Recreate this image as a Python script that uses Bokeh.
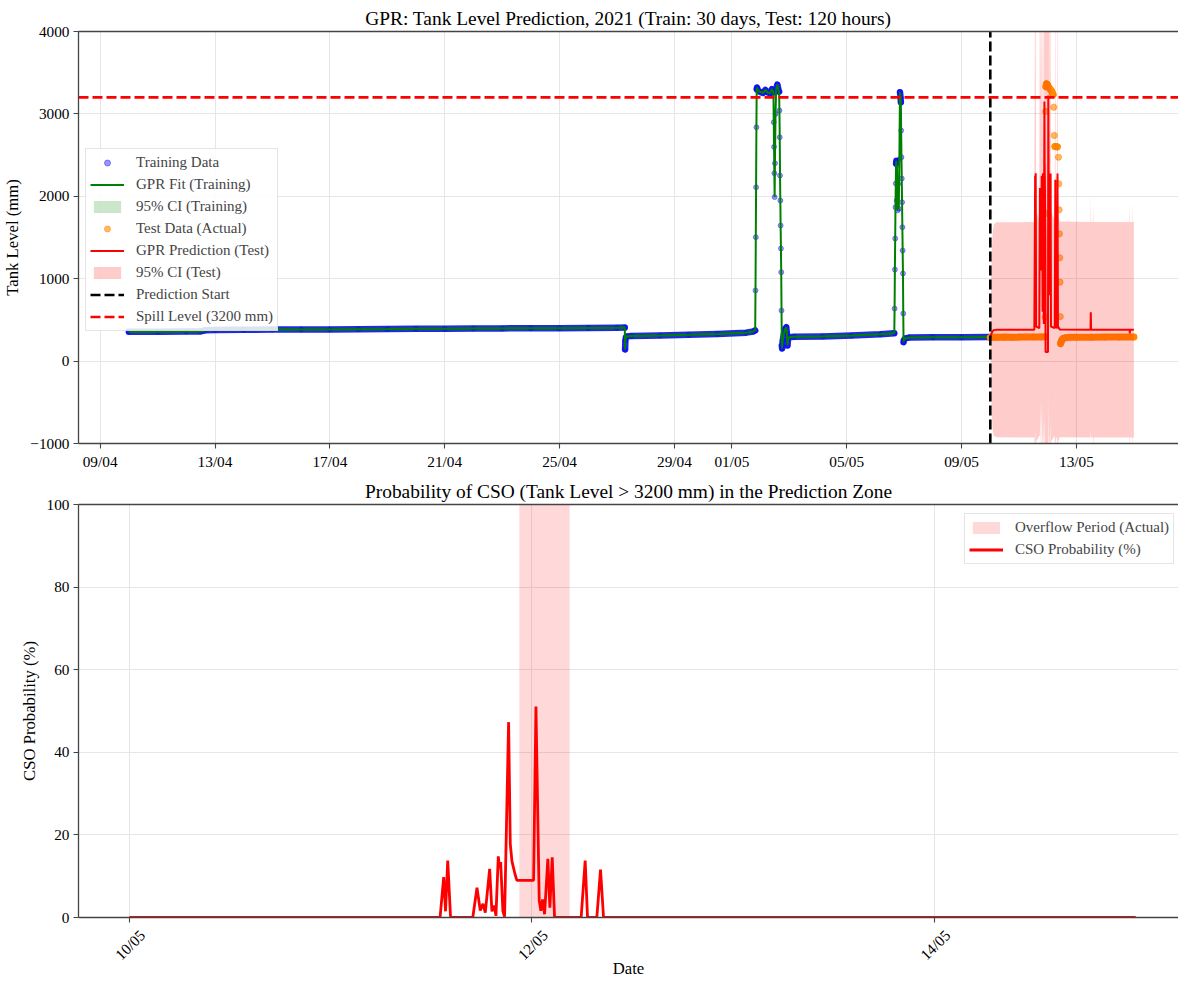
import math
import numpy as np
import pandas as pd
from bokeh.plotting import figure
from bokeh.layouts import column
from bokeh.models import (Range1d, FixedTicker, DatetimeTickFormatter, Legend,
                          LegendItem, LinearAxis, DatetimeAxis)
from bokeh.embed import file_html
from bokeh.resources import INLINE

FONT = "Liberation Serif"

# ---------------------------------------------------------------- data
train_start = "2021-04-10 00:00"
test_start = "2021-05-10 00:00"          # prediction start
spill_level = 3200

# training record: hours after train_start, tank level (mm)
train_hours = [
    0, 24, 48, 60, 64, 72, 96, 120, 144, 168, 192, 216, 240, 264, 288, 312, 336, 360, 384, 408, 414.5,
    414.75, 415, 415.5, 416, 420, 444, 468, 492, 516, 522, 523.5,
    523.75, 524, 524.25, 524.5, 524.75, 525, 526, 528, 530, 532, 534, 536, 537.5, 538.75,
    539, 539.25, 539.5, 539.75, 540, 540.5, 541, 542, 543, 543.5,
    543.75, 544, 544.25, 544.5, 544.75, 545, 545.25, 545.5, 545.75, 546,
    546.5, 547.5, 548.5, 549.5, 550, 550.5, 551, 552, 556, 580, 604, 628, 639.75,
    640, 640.25, 640.5, 640.75, 641, 641.25, 641.5, 641.75, 642, 642.5, 643, 643.5, 644, 644.5, 645,
    645.25, 645.5, 645.75, 646, 646.25, 646.5, 646.75, 647, 647.25, 647.5, 647.75, 649, 652, 672, 696, 719.75]
train_level = [
    355, 357, 358, 360, 374, 377, 380, 382, 384, 385, 387, 389, 392, 393, 395, 397, 398, 400, 403, 405, 407,
    141, 250, 290, 300, 305, 312, 320, 330, 345, 360, 372,
    857, 1504, 2110, 2838, 3300, 3320, 3280, 3265, 3255, 3290, 3260, 3250, 3300, 3260,
    2900, 2600, 2280, 1990, 2400, 3000, 3300, 3356, 3290, 3270,
    3041, 2717, 2252, 1949, 1646, 1366, 1079, 614, 189, 153,
    250, 330, 390, 411, 330, 189, 265, 290, 296, 300, 310, 325, 339,
    638, 1111, 1488, 1868, 2155, 2398, 2430, 1950, 2380, 1830, 2150, 1850, 2450, 3263, 3200,
    3142, 2798, 2474, 2216, 1928, 1625, 1342, 1063, 578, 230, 255, 275, 285, 288, 290, 292]
train_ci_halfwidth = 30

# test record: hours after test_start, measured tank level (mm)
test_hours = [0, 1, 3, 6, 12, 18, 24, 30, 36, 42, 45.5, 45.75, 46, 46.25, 46.5, 47, 47.5, 48,
              49, 50, 51, 52, 52.5, 53, 53.5, 54, 55, 56, 57, 57.25, 57.5, 57.75, 58, 58.25,
              58.5, 58.75, 59, 59.5, 60, 61, 63, 66, 72, 84, 96, 108, 120]
test_level = [285, 288, 289, 290, 291, 290, 291, 292, 292, 293, 295, 533, 1791, 3029, 3330, 3365,
              3360, 3345, 3320, 3300, 3284, 3250, 3235, 3081, 2738, 2604, 2604, 2600, 2474, 2151,
              1836, 1545, 1254, 958, 540, 213, 225, 245, 262, 275, 284, 288, 290, 290, 291, 291, 292]

# GPR prediction over the test window: hours, mean (mm), 95% half-width (mm)
pred_hours = [0, 1, 2, 3, 5, 36.8, 37.48, 37.7, 37.96, 38.3, 40.95, 41.45, 41.84, 42.16, 42.44,
              42.96, 43.23, 43.51, 43.71, 43.99, 44.13, 44.27, 44.54, 44.74, 45.22, 45.42, 45.62,
              46.01, 46.21, 48.2, 48.48, 48.87, 49.07, 49.27, 49.51, 49.9, 50.14, 50.42, 50.7,
              53.87, 54.35, 54.63, 55.74, 56.18, 56.54, 58, 83.75, 84, 84.25, 85.75, 86, 86.25,
              116.4, 116.6, 116.8, 118.4, 118.6, 118.8, 120]
pred_mean = [290, 335, 365, 376, 380, 380, 2250, 1000, 2280, 420, 400, 2100, 1200, 1800, 1100,
             2250, 1100, 1650, 600, 2280, 2100, 2250, 1100, 450, 3150, 2400, 2200, 1500, 110, 110,
             3223, 1900, 1500, 1950, 800, 2277, 1100, 2277, 420, 400, 2200, 420, 400, 2277, 420,
             385, 380, 593, 380, 380, 380, 380, 380, 335, 380, 380, 380, 380, 380]
pred_ci = [60, 900, 1200, 1285, 1305, 1307, 3400, 1800, 3500, 1400, 1310, 3000, 1700, 3200, 1600,
           3400, 1600, 2800, 1450, 3500, 3300, 3450, 1800, 1500, 3800, 3600, 3500, 3300, 4500, 4500,
           3600, 3000, 2800, 3100, 1700, 3400, 1800, 3400, 1400, 1310, 3300, 1400, 1310, 3400, 1400,
           1308, 1307, 1441, 1307, 1307, 1500, 1307, 1307, 1611, 1307, 1307, 1560, 1307, 1307]

# probability of exceeding the spill level: hours after test_start, %
cso_hours = [0, 37.05, 37.48, 37.7, 37.96, 38.3, 40.95, 41.45, 41.84, 42.16, 42.44, 42.96, 43.23,
             43.51, 43.71, 43.99, 44.13, 44.27, 44.54, 44.74, 45.22, 45.42, 45.62, 46.01, 46.21,
             48.2, 48.48, 48.87, 49.07, 49.27, 49.51, 49.9, 50.14, 50.42, 50.7, 53.87, 54.35,
             54.63, 55.74, 56.18, 56.54, 120]
cso_prob = [0, 0, 9.8, 1.5, 13.8, 0, 0, 7.2, 1.7, 3.3, 1.2, 11.8, 1.5, 2.9, 0.4, 14.8, 12.0,
            13.4, 1.5, 0.2, 47.3, 17.8, 13.6, 10.3, 9.0, 9.0, 51.1, 4.1, 1.6, 4.4, 0.8, 14.2,
            2.4, 14.6, 0, 0, 13.8, 0, 0, 11.6, 0, 0]

# observed overflow (level above spill) in hours after test_start
overflow_start_hour = 46.5
overflow_end_hour = 52.5

top_tick_dates = ["2021-04-09", "2021-04-13", "2021-04-17", "2021-04-21", "2021-04-25",
                  "2021-04-29", "2021-05-01", "2021-05-05", "2021-05-09", "2021-05-13"]
bottom_tick_dates = ["2021-05-10", "2021-05-12", "2021-05-14"]
top_y_ticks = [-1000, 0, 1000, 2000, 3000, 4000]
bottom_y_ticks = [0, 20, 40, 60, 80, 100]

top_view = ("2021-04-08 05:54", "2021-05-16 13:18")
bottom_view = ("2021-05-09 17:56", "2021-05-15 05:06")
top_ylim = (-1000, 4000)
bottom_ylim = (0, 100)

DASH = "10 4"
AXIS_COLOR = "#444444"
GRID_COLOR = "#e6e6e6"
PAGE_W = 1178
LEFT_BORDER = 77
ROT_LABEL_SHIFT_PX = 13      # rotated labels are centred under their tick


# ---------------------------------------------------------------- helpers
def ms(ts):
    return pd.Timestamp(ts).value / 1e6


def hours_to_ms(base, hours):
    return ms(base) + np.asarray(hours, dtype=float) * 3600e3


def slow_runs(xs, ys, max_step=120):
    """Split a series into runs where successive samples change slowly."""
    runs_x, runs_y = [], []
    cx, cy = [xs[0]], [ys[0]]
    for i in range(1, len(xs)):
        if abs(ys[i] - ys[i - 1]) <= max_step:
            cx.append(xs[i]); cy.append(ys[i])
        else:
            if len(cx) > 1:
                runs_x.append(cx); runs_y.append(cy)
            cx, cy = [xs[i]], [ys[i]]
    if len(cx) > 1:
        runs_x.append(cx); runs_y.append(cy)
    return runs_x, runs_y


def style_axis(ax):
    ax.axis_line_color = AXIS_COLOR
    ax.axis_line_width = 1.3
    ax.major_tick_line_color = AXIS_COLOR
    ax.major_tick_line_width = 1.1
    ax.major_tick_out = 5
    ax.major_tick_in = 0
    ax.minor_tick_line_color = None
    ax.major_label_text_font = FONT
    ax.major_label_text_font_size = "15.3px"
    ax.major_label_text_color = "black"
    ax.major_label_standoff = 4
    ax.axis_label_text_font = FONT
    ax.axis_label_text_font_size = "16.7px"
    ax.axis_label_text_font_style = "normal"
    ax.axis_label_text_color = "black"


def add_top_spine(p):
    spine = LinearAxis(ticker=FixedTicker(ticks=[]), axis_line_color=AXIS_COLOR,
                       axis_line_width=1.3, major_tick_line_color=None,
                       minor_tick_line_color=None, major_tick_out=0, major_tick_in=0,
                       major_label_text_font_size="0px", major_label_standoff=0,
                       axis_label_standoff=0)
    p.add_layout(spine, "above")


def style_title(p, text):
    p.title.text = text
    p.title.text_font = FONT
    p.title.text_font_size = "19.4px"
    p.title.text_font_style = "normal"
    p.title.text_color = "black"
    p.title.align = "center"
    p.title.standoff = 6


def date_formatter():
    f = "%d/%m"
    return DatetimeTickFormatter(microseconds=f, milliseconds=f, seconds=f, minsec=f,
                                 minutes=f, hourmin=f, hours=f, days=f, months=f, years=f)


def make_legend(items, loc):
    return Legend(items=items, location=loc, margin=0, padding=4, spacing=3,
                  glyph_width=34, glyph_height=15, label_height=19, label_standoff=12,
                  label_text_font=FONT, label_text_font_size="15px",
                  border_line_color="#cccccc", border_line_width=1,
                  background_fill_color="white", background_fill_alpha=0.85)


def make_figure(height, view, ylim, bottom_border):
    p = figure(width=PAGE_W, height=height, x_axis_type="datetime",
               x_range=Range1d(ms(view[0]), ms(view[1])), y_range=Range1d(*ylim),
               output_backend="svg", toolbar_location=None,
               min_border_left=LEFT_BORDER, min_border_right=0, min_border_top=31,
               min_border_bottom=bottom_border)
    p.outline_line_color = None
    p.background_fill_color = "white"
    return p


def setup_axes(p, x_dates, y_ticks, y_label):
    xax, yax = p.below[0], p.left[0]
    xt = FixedTicker(ticks=[ms(d) for d in x_dates])
    xax.ticker = xt
    p.xgrid[0].ticker = xt
    xax.formatter = date_formatter()
    yt = FixedTicker(ticks=y_ticks)
    yax.ticker = yt
    p.ygrid[0].ticker = yt
    yax.axis_label = y_label
    style_axis(xax)
    style_axis(yax)
    for g in (p.xgrid[0], p.ygrid[0]):
        g.grid_line_color = GRID_COLOR
        g.grid_line_width = 1
    return xax, yax


# ---------------------------------------------------------------- top panel
train_x = hours_to_ms(train_start, train_hours)
test_x = hours_to_ms(test_start, test_hours)
pred_x = hours_to_ms(test_start, pred_hours)
train_lv = np.asarray(train_level, dtype=float)
pred_mu = np.asarray(pred_mean, dtype=float)
pred_hw = np.asarray(pred_ci, dtype=float)
start_ms = ms(test_start)

p1 = make_figure(473, top_view, top_ylim, 30)
style_title(p1, "GPR: Tank Level Prediction, 2021 (Train: 30 days, Test: 120 hours)")
x1, y1 = setup_axes(p1, top_tick_dates, top_y_ticks, "Tank Level (mm)")
y1.major_label_overrides = {v: ("\u2212" + str(-v) if v < 0 else str(v)) for v in top_y_ticks}
add_top_spine(p1)

# dense training samples read as a solid band
rx, ry = slow_runs(list(train_x), train_level)
p1.multi_line(xs=rx, ys=ry, line_color="#2424f0", line_width=6.5,
              line_join="round", line_cap="round")
r_train = p1.scatter(train_x, train_lv, size=5, fill_color="blue", line_color="blue",
                     fill_alpha=0.4, line_alpha=0.4)
r_fit = p1.line(train_x, train_lv, line_color="green", line_width=2)
r_fit_ci = p1.varea(x=train_x, y1=train_lv - train_ci_halfwidth, y2=train_lv + train_ci_halfwidth,
                    fill_color="green", fill_alpha=0.2)

tx, ty = slow_runs(list(test_x), test_level)
p1.multi_line(xs=tx, ys=ty, line_color="#ff8c00", line_width=7,
              line_join="round", line_cap="round")
r_test = p1.scatter(test_x, test_level, size=6.2, fill_color="#ff8c00", line_color="#ff8c00",
                    fill_alpha=0.6, line_alpha=0.6)
r_pred = p1.line(pred_x, pred_mu, line_color="red", line_width=2)
r_pred_ci = p1.varea(x=pred_x, y1=pred_mu - pred_hw, y2=pred_mu + pred_hw,
                     fill_color="red", fill_alpha=0.2)
r_start = p1.segment(x0=[start_ms], y0=[top_ylim[0]], x1=[start_ms], y1=[top_ylim[1]],
                     line_color="black", line_width=2.6, line_dash=DASH)
r_spill = p1.segment(x0=[ms(top_view[0])], y0=[spill_level], x1=[ms(top_view[1])],
                     y1=[spill_level], line_color="red", line_width=2.6, line_dash=DASH)

p1.add_layout(make_legend([
    LegendItem(label="Training Data", renderers=[r_train]),
    LegendItem(label="GPR Fit (Training)", renderers=[r_fit]),
    LegendItem(label="95% CI (Training)", renderers=[r_fit_ci]),
    LegendItem(label="Test Data (Actual)", renderers=[r_test]),
    LegendItem(label="GPR Prediction (Test)", renderers=[r_pred]),
    LegendItem(label="95% CI (Test)", renderers=[r_pred_ci]),
    LegendItem(label="Prediction Start", renderers=[r_start]),
    LegendItem(label="Spill Level (3200 mm)", renderers=[r_spill]),
], (7, 112)))

# ---------------------------------------------------------------- bottom panel
cso_x = hours_to_ms(test_start, cso_hours)

p2 = make_figure(508, bottom_view, bottom_ylim, 64)
style_title(p2, "Probability of CSO (Tank Level > 3200 mm) in the Prediction Zone")
x2, y2 = setup_axes(p2, bottom_tick_dates, bottom_y_ticks, "CSO Probability (%)")
x2.major_label_text_alpha = 0          # tick marks only; labels come from the axis below

# rotated date labels, centred under their ticks
span_ms = ms(bottom_view[1]) - ms(bottom_view[0])
shift_ms = ROT_LABEL_SHIFT_PX * span_ms / (PAGE_W - LEFT_BORDER)
label_axis = DatetimeAxis(ticker=FixedTicker(ticks=[ms(d) + shift_ms for d in bottom_tick_dates]),
                          formatter=date_formatter(), axis_label="Date")
style_axis(label_axis)
label_axis.axis_line_color = None
label_axis.major_tick_line_color = None
label_axis.major_tick_out = 0
label_axis.major_label_standoff = 10
label_axis.axis_label_standoff = -13
label_axis.major_label_orientation = math.pi / 4
p2.add_layout(label_axis, "below")
add_top_spine(p2)

r_over = p2.quad(left=hours_to_ms(test_start, [overflow_start_hour]),
                 right=hours_to_ms(test_start, [overflow_end_hour]),
                 bottom=[bottom_ylim[0]], top=[bottom_ylim[1]],
                 fill_color="red", fill_alpha=0.15, line_color=None)
r_cso = p2.line(cso_x, cso_prob, line_color="red", line_width=2.8)

p2.add_layout(make_legend([
    LegendItem(label="Overflow Period (Actual)", renderers=[r_over]),
    LegendItem(label="CSO Probability (%)", renderers=[r_cso]),
], (886, 353)))

layout = column(p1, p2, spacing=0)
open("out.html", "w").write(file_html(layout, INLINE))
